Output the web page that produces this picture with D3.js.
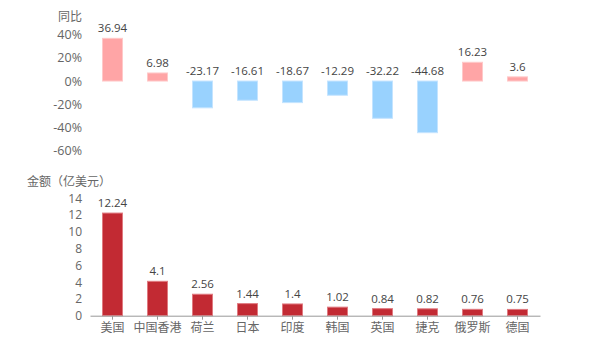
<!DOCTYPE html>
<html><head><meta charset="utf-8">
<script src="https://cdn.jsdelivr.net/npm/d3@7"></script>
<style>body{margin:0;background:#fff;}svg{display:block;}</style>
</head><body>
<svg id="c" width="600" height="350"></svg>
<script>
const categories = ["美国","中国香港","荷兰","日本","印度","韩国","英国","捷克","俄罗斯","德国"];
const yoy = [36.94, 6.98, -23.17, -16.61, -18.67, -12.29, -32.22, -44.68, 16.23, 3.6];
const amount = [12.24, 4.1, 2.56, 1.44, 1.4, 1.02, 0.84, 0.82, 0.76, 0.75];
const yoyTicks = [40, 20, 0, -20, -40, -60];
const amountTicks = [0, 2, 4, 6, 8, 10, 12, 14];

const svg = d3.select("#c");
const font = "'Open Sans','Noto Sans CJK SC',sans-serif";
const cjk = "'Noto Sans CJK SC',sans-serif";
const txt = "#666";

const x = d3.scaleBand().domain(categories).range([90, 540]).paddingInner(0.556).paddingOuter(0.278);

// top chart
const y1 = d3.scaleLinear().domain([-60, 40]).range([150.4, 34.8]);
const gTop = svg.append("g");
gTop.append("g").attr("transform","translate(82,0)")
  .call(d3.axisLeft(y1).tickValues(yoyTicks).tickSize(0).tickPadding(0).tickFormat(d => d + "%"))
  .call(g => g.select(".domain").remove())
  .selectAll("text").attr("fill", txt).style("font-family", font).style("font-size","12.5px");
gTop.append("text").attr("x", 82).attr("y", 21).attr("text-anchor","end")
  .attr("fill", txt).style("font-family", cjk).style("font-size","12px").text("同比");
gTop.selectAll("rect.b").data(yoy).join("rect").attr("class","b")
  .attr("x", (d,i) => x(categories[i]))
  .attr("width", x.bandwidth())
  .attr("y", d => y1(Math.max(0,d)))
  .attr("height", d => Math.abs(y1(d) - y1(0)))
  .attr("fill", d => d >= 0 ? "#FFA5A6" : "#99D2FE")
  .attr("stroke", d => d >= 0 ? "#FFC9C9" : "#C4E4FF").attr("stroke-width", 1);
gTop.selectAll("text.v").data(yoy).join("text").attr("class","v")
  .attr("x", (d,i) => x(categories[i]) + x.bandwidth()/2)
  .attr("y", d => d >= 0 ? y1(d) - 6 : y1(0) - 6)
  .attr("text-anchor","middle").attr("fill","#444")
  .style("font-family", font).style("font-size","11.5px").text(d => d);

// bottom chart
const y2 = d3.scaleLinear().domain([0, 14]).range([315.7, 198.3]);
const gBot = svg.append("g");
gBot.append("g").attr("transform","translate(82,0)")
  .call(d3.axisLeft(y2).tickValues(amountTicks).tickSize(0).tickPadding(0))
  .call(g => g.select(".domain").remove())
  .selectAll("text").attr("fill", txt).style("font-family", font).style("font-size","12px");
gBot.append("text").attr("x", 27).attr("y", 186)
  .attr("fill", txt).style("font-family", cjk).style("font-size","12px").text("金额（亿美元）");
gBot.selectAll("rect.b").data(amount).join("rect").attr("class","b")
  .attr("x", (d,i) => x(categories[i]))
  .attr("width", x.bandwidth())
  .attr("y", d => y2(d))
  .attr("height", d => y2(0) - y2(d))
  .attr("fill", "#C22A33").attr("stroke","#E07A80").attr("stroke-width",1);
gBot.selectAll("text.v").data(amount).join("text").attr("class","v")
  .attr("x", (d,i) => x(categories[i]) + x.bandwidth()/2)
  .attr("y", d => y2(d) - 6)
  .attr("text-anchor","middle").attr("fill","#444")
  .style("font-family", font).style("font-size","11.5px").text(d => d);
const xa = gBot.append("g").attr("transform", `translate(0,${y2(0)})`)
  .call(d3.axisBottom(x).tickSize(4).tickSizeOuter(0).tickPadding(4));
xa.select(".domain").attr("stroke","#999");
xa.selectAll(".tick line").attr("stroke","#999");
xa.selectAll("text").attr("fill", txt).style("font-family", cjk).style("font-size","12px");
</script>
</body></html>
